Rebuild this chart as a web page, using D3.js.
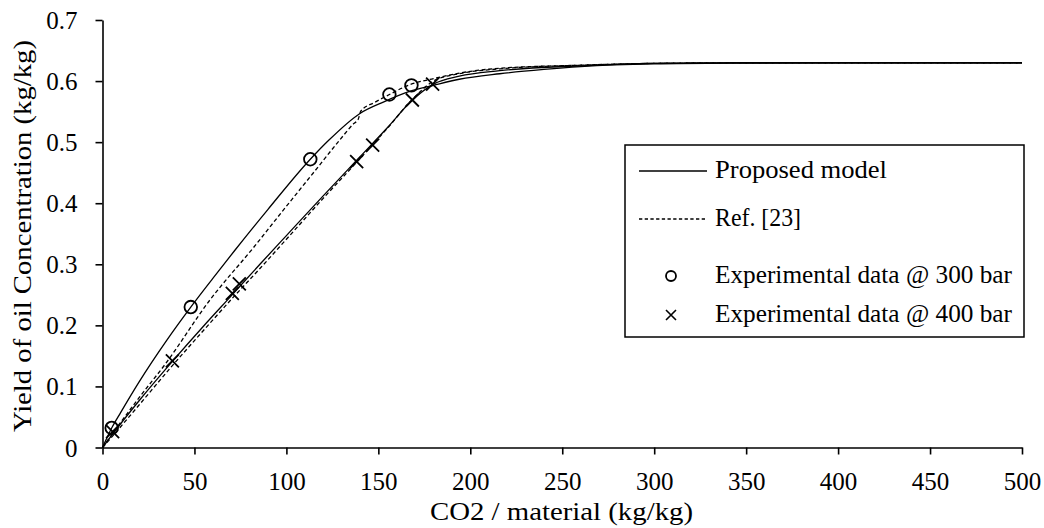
<!DOCTYPE html>
<html>
<head>
<meta charset="utf-8">
<script src="https://cdn.jsdelivr.net/npm/d3@7"></script>
<style>
  html, body { margin: 0; padding: 0; background: #fff; }
  svg { display: block; }
  text { font-family: "Liberation Serif", "DejaVu Serif", serif; fill: #000; }
</style>
</head>
<body>
<svg id="chart" width="1044" height="528"></svg>
<script>
// ---- Data ----
const model300X = [0, 5, 10, 20, 35, 48, 60, 72, 90, 113, 123, 140, 153, 167, 180, 194, 216, 240, 260, 300, 350, 400, 500];
const model300Y = [0, 0.032, 0.058, 0.108, 0.176, 0.23, 0.277, 0.323, 0.39, 0.472, 0.503, 0.547, 0.566, 0.583, 0.593, 0.603, 0.612, 0.619, 0.6235, 0.628, 0.6295, 0.63, 0.63];

const ref300X = [0, 5, 20, 34, 58.4, 82, 100, 115, 129, 136.5, 139, 140.5, 148, 156, 167, 180, 194, 216, 260, 300, 350, 500];
const ref300Y = [0, 0.021, 0.082, 0.136, 0.2415, 0.327, 0.395, 0.451, 0.5035, 0.53, 0.537, 0.551, 0.565, 0.578, 0.594, 0.604, 0.613, 0.621, 0.626, 0.629, 0.63, 0.63];

const model400X = [0, 5, 20, 38, 55, 70.5, 85.6, 100, 120, 140, 155, 168.5, 180, 194, 216, 260, 300, 350, 500];
const model400Y = [0, 0.02, 0.077, 0.141, 0.199, 0.25, 0.3, 0.347, 0.412, 0.476, 0.524, 0.569, 0.595, 0.608, 0.617, 0.625, 0.629, 0.63, 0.63];

const ref400X = [0, 5, 20, 38, 55, 70.5, 85.6, 100, 120, 140, 155, 168.5, 180, 194, 216, 260, 300, 350, 500];
const ref400Y = [0, 0.017, 0.07, 0.134, 0.192, 0.244, 0.293, 0.341, 0.408, 0.473, 0.523, 0.57, 0.6, 0.612, 0.62, 0.626, 0.629, 0.63, 0.63];

const exp300X = [5, 48, 113, 156, 168];
const exp300Y = [0.032, 0.23, 0.472, 0.578, 0.593];
const exp400X = [5.5, 38, 70.6, 74.4, 138.2, 146.9, 168.5, 179.5];
const exp400Y = [0.026, 0.142, 0.2525, 0.268, 0.468, 0.495, 0.569, 0.595];

const xTicks = [0, 50, 100, 150, 200, 250, 300, 350, 400, 450, 500];
const yTicks = [0, 0.1, 0.2, 0.3, 0.4, 0.5, 0.6, 0.7];
const yTickLabels = ["0", "0.1", "0.2", "0.3", "0.4", "0.5", "0.6", "0.7"];

const legendLabels = ["Proposed model", "Ref. [23]", "Experimental data @ 300 bar", "Experimental data @ 400 bar"];
const xTitle = "CO2 / material (kg/kg)";
const yTitle = "Yield of oil Concentration (kg/kg)";

// ---- Layout ----
const svg = d3.select("#chart");
const x = d3.scaleLinear().domain([0, 500]).range([102.5, 1022]);
const y = d3.scaleLinear().domain([0, 0.7]).range([447.5, 20]);
const FS = 25;

const zip = (xs, ys) => xs.map((v, i) => [v, ys[i]]);
const line = d3.line().x(d => x(d[0])).y(d => y(d[1])).curve(d3.curveMonotoneX);

// Curves
const curves = [
  { data: zip(model300X, model300Y), dash: null },
  { data: zip(model400X, model400Y), dash: null },
  { data: zip(ref300X, ref300Y), dash: "4,2.6" },
  { data: zip(ref400X, ref400Y), dash: "4,2.6" }
];
svg.append("g").selectAll("path").data(curves).join("path")
  .attr("d", d => line(d.data))
  .attr("fill", "none")
  .attr("stroke", "#000")
  .attr("stroke-width", 1.3)
  .attr("stroke-dasharray", d => d.dash);

// Markers
svg.append("g").selectAll("circle").data(zip(exp300X, exp300Y)).join("circle")
  .attr("cx", d => x(d[0])).attr("cy", d => y(d[1])).attr("r", 6.3)
  .attr("fill", "none").attr("stroke", "#000").attr("stroke-width", 1.8);

const cross = (s) => `M${-s},${-s}L${s},${s}M${-s},${s}L${s},${-s}`;
svg.append("g").selectAll("path").data(zip(exp400X, exp400Y)).join("path")
  .attr("transform", d => `translate(${x(d[0])},${y(d[1])})`)
  .attr("d", cross(6.5))
  .attr("fill", "none").attr("stroke", "#000").attr("stroke-width", 1.8);

// Axes
const xAxis = svg.append("g").attr("transform", `translate(0,${y(0)})`)
  .call(d3.axisBottom(x).tickValues(xTicks).tickSize(7).tickSizeOuter(0).tickFormat(d3.format("d")));
xAxis.selectAll("text").attr("y", 42.5).attr("dy", null).style("font-size", FS + "px")
  .style("font-family", '"Liberation Serif", serif');

const yAxis = svg.append("g").attr("transform", `translate(${x(0)},0)`)
  .call(d3.axisLeft(y).tickValues(yTicks).tickSize(7).tickSizeOuter(0)
    .tickFormat((d, i) => yTickLabels[i]));
yAxis.selectAll("text").attr("x", -25).attr("dy", "0.34em").style("font-size", FS + "px")
  .style("font-family", '"Liberation Serif", serif');

[xAxis, yAxis].forEach(g => {
  g.select(".domain").attr("stroke", "#000").attr("stroke-width", 1.6);
  g.selectAll(".tick line").attr("stroke", "#000").attr("stroke-width", 1.6);
});

// Axis titles
svg.append("text").attr("x", 561.5).attr("y", 520).attr("text-anchor", "middle")
  .style("font-size", FS + "px").attr("textLength", 263).attr("lengthAdjust", "spacingAndGlyphs")
  .text(xTitle);
svg.append("text").attr("transform", "translate(31,236) rotate(-90)").attr("text-anchor", "middle")
  .style("font-size", FS + "px").attr("textLength", 392).attr("lengthAdjust", "spacingAndGlyphs")
  .text(yTitle);

// Legend
const lg = svg.append("g");
lg.append("rect").attr("x", 625).attr("y", 145).attr("width", 399).attr("height", 192)
  .attr("fill", "#fff").attr("stroke", "#000").attr("stroke-width", 1.5);
const rowsY = [171, 219, 276, 315];
const textLens = [172, 86, 297, 297];
lg.append("line").attr("x1", 639).attr("x2", 707).attr("y1", rowsY[0]).attr("y2", rowsY[0])
  .attr("stroke", "#000").attr("stroke-width", 1.3);
lg.append("line").attr("x1", 639).attr("x2", 707).attr("y1", rowsY[1]).attr("y2", rowsY[1])
  .attr("stroke", "#000").attr("stroke-width", 1.3).attr("stroke-dasharray", "3.3,2.4");
lg.append("circle").attr("cx", 671).attr("cy", rowsY[2]).attr("r", 5)
  .attr("fill", "none").attr("stroke", "#000").attr("stroke-width", 1.8);
lg.append("path").attr("transform", `translate(671,${rowsY[3]})`).attr("d", cross(5))
  .attr("fill", "none").attr("stroke", "#000").attr("stroke-width", 1.6);
lg.selectAll("text").data(legendLabels).join("text")
  .attr("x", 715).attr("y", (d, i) => rowsY[i] + 7)
  .style("font-size", FS + "px")
  .attr("textLength", (d, i) => textLens[i]).attr("lengthAdjust", "spacingAndGlyphs")
  .text(d => d);
</script>
</body>
</html>
